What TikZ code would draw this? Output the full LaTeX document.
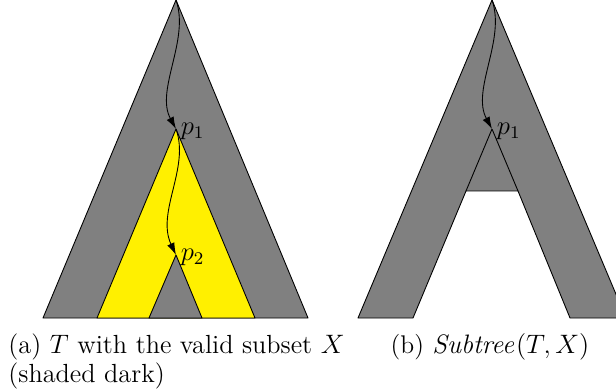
\documentclass[tikz,border=0pt]{standalone}
\definecolor{treegray}{RGB}{128, 128, 128}
\definecolor{subyellow}{RGB}{255, 240, 0}
\usepackage{tikz}
\usetikzlibrary{arrows.meta, positioning, calc}
\usepackage{amsmath, amssymb}
\begin{document}
\begin{tikzpicture}[x=0.45pt, y=-0.45pt,
  treepart/.style={draw=black, fill=treegray, line join=round},
  subpart/.style={draw=black, fill=subyellow, line join=round},
  pathto/.style={-{Latex[length=5.5pt, width=3.5pt]}, thin},
  plabel/.style={anchor=west, inner sep=2pt, font=\fontsize{11.5}{12.5}\selectfont}]
  \useasboundingbox (0, 0) rectangle (616, 390);
  \coordinate (apexA) at (176, 0);
  \coordinate (p1A) at (176, 129);
  \coordinate (p2A) at (176, 255);
  \coordinate (apexB) at (492, 0);
  \coordinate (p1B) at (492, 129);
  \draw[treepart] (apexA) -- (43, 318) -- (308, 318) -- cycle;
  \draw[subpart] (p1A) -- (97, 318) -- (255, 318) -- cycle;
  \draw[treepart] (p2A) -- (149, 318) -- (202, 318) -- cycle;
  \draw[pathto] (apexA) .. controls (190, 40) and (155, 90) .. (p1A);
  \draw[pathto] (p1A) .. controls (190, 168) and (156, 212) .. (p2A);
  \node[plabel] (labp1A) at ([yshift=-1pt]p1A) {$p_1$};
  \node[plabel] (labp2A) at ([yshift=-1pt]p2A) {$p_2$};
  \draw[treepart] (apexB) -- (358, 318) -- (413, 318) -- (466, 191) -- (518, 191)
    -- (570, 318) -- (626, 318) -- cycle;
  \draw (p1B) -- (466, 191) (p1B) -- (518, 191);
  \draw[pathto] (apexB) .. controls (506, 40) and (471, 90) .. (p1B);
  \node[plabel] (labp1B) at ([yshift=-1pt]p1B) {$p_1$};
  \node[anchor=north west, align=left, inner sep=0pt, font=\fontsize{11.8}{13}\selectfont] (capA) at (8, 333)
    {(a) $T$ with the valid subset $X$\\(shaded dark)};
  \node[anchor=north, inner sep=0pt, font=\fontsize{11.5}{13}\selectfont] (capB) at (490, 333)
    {(b) $\mathit{Subtree}(T, X)$};
\end{tikzpicture}
\end{document}
